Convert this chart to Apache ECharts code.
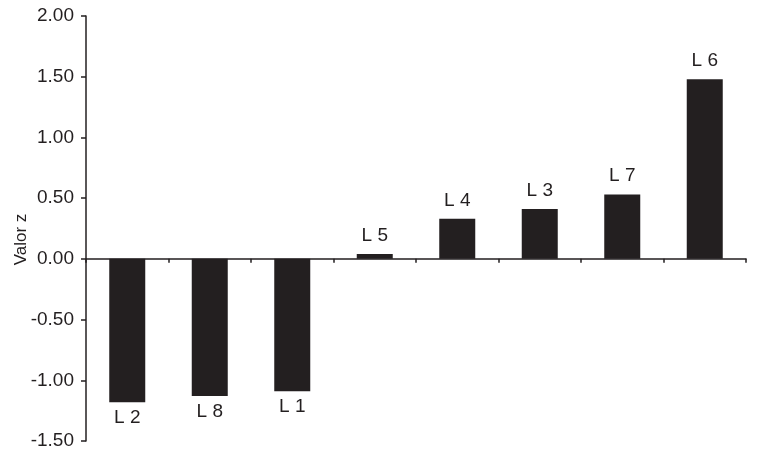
<!DOCTYPE html>
<html>
<head>
<meta charset="utf-8">
<script src="https://cdn.jsdelivr.net/npm/echarts@6/dist/echarts.min.js"></script>
<style>html,body{margin:0;padding:0;background:#fff}#c{width:763px;height:451px}</style>
</head>
<body>
<div id="c"></div>
<script>
var categories = ['L 2', 'L 8', 'L 1', 'L 5', 'L 4', 'L 3', 'L 7', 'L 6'];
var values = [-1.18, -1.13, -1.09, 0.04, 0.33, 0.41, 0.53, 1.48];
var yTicks = { min: -1.5, max: 2, interval: 0.5 };

var chart = echarts.init(document.getElementById('c'));
var font = 'Liberation Sans, Arial, sans-serif';
var ink = '#231f20';
chart.setOption({
  animation: false,
  backgroundColor: '#fff',
  grid: { left: 86, right: 17, top: 16, bottom: 10, containLabel: false, outerBoundsMode: 'none' },
  xAxis: {
    type: 'category',
    data: categories,
    axisLine: { onZero: true, lineStyle: { color: ink, width: 1.5 } },
    axisTick: { show: true, length: 4, inside: false, lineStyle: { color: ink, width: 1.5 } },
    axisLabel: { show: false },
    splitLine: { show: false }
  },
  yAxis: {
    type: 'value',
    min: yTicks.min, max: yTicks.max, interval: yTicks.interval,
    name: 'Valor z',
    nameLocation: 'middle',
    nameGap: 56,
    nameMoveOverlap: false,
    nameTextStyle: { fontFamily: font, fontSize: 17, color: ink, padding: [0, 22, 0, 0] },
    axisLine: { show: true, lineStyle: { color: ink, width: 1.5 } },
    axisTick: { show: true, length: 5, lineStyle: { color: ink, width: 1.5 } },
    axisLabel: { fontFamily: font, fontSize: 19, color: ink, margin: 12,
      formatter: function (v) { return v.toFixed(2); } },
    splitLine: { show: false }
  },
  series: [{
    type: 'bar',
    barWidth: 36,
    data: values.map(function (v) {
      return { value: v, label: { position: v >= 0 ? 'top' : 'bottom', distance: v >= 0 ? 9 : 6 } };
    }),
    itemStyle: { color: ink },
    label: {
      show: true, fontFamily: font, fontSize: 19, color: ink,
      formatter: function (p) { return p.name; }
    }
  }]
});
</script>
</body>
</html>
